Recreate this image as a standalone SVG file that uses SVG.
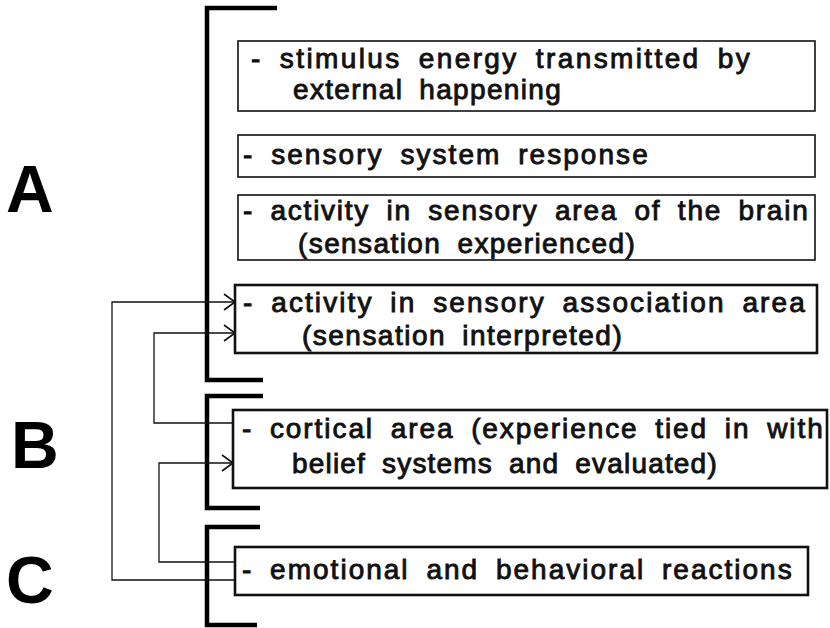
<svg xmlns="http://www.w3.org/2000/svg" width="830" height="628" viewBox="0 0 830 628">
<defs>
<style>
.box{fill:#fff;stroke:#111;stroke-width:1.6}
.thick{stroke-width:2.6}
.br{fill:none;stroke:#000;stroke-width:4.5}
.ln{fill:none;stroke:#111;stroke-width:1.3}
.t{font-family:"Liberation Sans",Arial,sans-serif;font-size:28px;fill:#111;stroke:#111;stroke-width:0.9;letter-spacing:0.3px;word-spacing:7px}
.big{font-family:"Liberation Sans",Arial,sans-serif;font-size:66px;font-weight:bold;fill:#000}
</style>
<marker id="ah" viewBox="-12 -9 14 18" markerWidth="14" markerHeight="18" refX="0" refY="0" orient="auto" markerUnits="userSpaceOnUse">
<path d="M-11,-8 L0,0 L-11,8" fill="none" stroke="#111" stroke-width="1.6"/>
</marker>
</defs>
<rect width="830" height="628" fill="#fff"/>
<g id="labels">
<text class="big" x="6" y="212">A</text>
<text class="big" x="11" y="468">B</text>
<text class="big" x="6" y="603">C</text>
</g>
<g id="brackets">
<path class="br" d="M277,8 H207 V380 H263"/>
<path class="br" d="M263,396 H207 V508 H260"/>
<path class="br" d="M260,527 H207 V625 H257"/>
</g>
<g id="connectors">
<path class="ln" d="M235,580 H112 V302 H235" marker-end="url(#ah)"/>
<path class="ln" d="M233,423 H154 V333 H235" marker-end="url(#ah)"/>
<path class="ln" d="M235,562 H159 V463 H233" marker-end="url(#ah)"/>
</g>
<g id="n1">
<rect class="box" x="238" y="41" width="577" height="70"/>
<text class="t" x="251" y="68" textLength="499" lengthAdjust="spacing">-  stimulus energy transmitted by</text>
<text class="t" x="293" y="99" textLength="268" lengthAdjust="spacing">external happening</text>
</g>
<g id="n2">
<rect class="box" x="238" y="135" width="577" height="42"/>
<text class="t" x="243" y="164" textLength="405" lengthAdjust="spacing">-  sensory system response</text>
</g>
<g id="n3">
<rect class="box" x="238" y="195" width="577" height="65"/>
<text class="t" x="243" y="220" textLength="565" lengthAdjust="spacing">- activity in sensory area of the brain</text>
<text class="t" x="298" y="253" textLength="337" lengthAdjust="spacing">(sensation experienced)</text>
</g>
<g id="n4">
<rect class="box thick" x="235" y="285" width="582" height="68"/>
<text class="t" x="243" y="312" textLength="562" lengthAdjust="spacing">- activity in sensory association area</text>
<text class="t" x="302" y="345" textLength="320" lengthAdjust="spacing">(sensation interpreted)</text>
</g>
<g id="n5">
<rect class="box thick" x="233" y="410" width="594" height="78"/>
<text class="t" x="242" y="438" textLength="581" lengthAdjust="spacing">- cortical area (experience tied in with</text>
<text class="t" x="292" y="473" textLength="425" lengthAdjust="spacing">belief systems and evaluated)</text>
</g>
<g id="n6">
<rect class="box thick" x="235" y="547" width="573" height="48"/>
<text class="t" x="242" y="579" textLength="550" lengthAdjust="spacing">- emotional and behavioral reactions</text>
</g>
</svg>
